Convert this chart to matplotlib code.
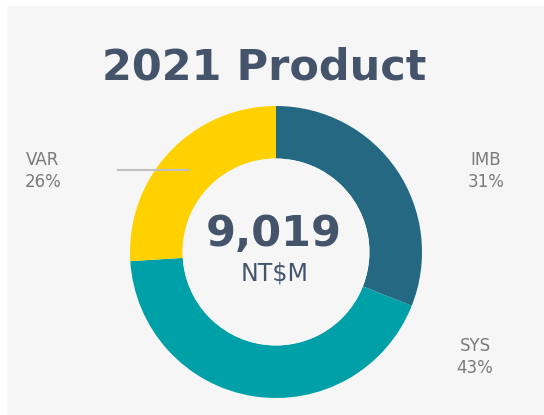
import matplotlib.pyplot as plt
from matplotlib.patches import Rectangle, Circle

# data
products = ['IMB', 'SYS', 'VAR']
shares = [31, 43, 26]
colors = ['#246882', '#00a0a8', '#ffd100']
total = '9,019'
unit = 'NT$M'

W, H = 544, 415
panel_col = '#f6f6f6'
fig = plt.figure(figsize=(W / 100, H / 100), dpi=100)
fig.patch.set_facecolor('white')

# light grey panel
fig.patches.append(Rectangle((7 / W, 0), 1, (H - 6) / H, transform=fig.transFigure,
                             facecolor=panel_col, edgecolor='none', zorder=-5))

def fx(x):
    return x / W

def fy(y):
    return 1 - y / H

# donut: center (276, 252), outer radius 146 px
ax = fig.add_axes([fx(130), fy(398), 292 / W, 292 / H])
ax.set_zorder(2)
ax.patch.set_visible(False)
ax.pie(shares, colors=colors, startangle=90, counterclock=False,
       radius=1, wedgeprops=dict(width=0.36, edgecolor='none'))
ax.add_patch(Circle((0, 0), 0.64, facecolor=panel_col, edgecolor='none'))
ax.set_xlim(-1, 1)
ax.set_ylim(-1, 1)
ax.set_aspect('equal')
ax.axis('off')

title_col = '#44546a'
label_col = '#7a7a7a'

fig.text(fx(264), fy(67), '2021 Product', ha='center', va='center',
         fontsize=31, fontweight='bold', color=title_col)
fig.text(fx(274), fy(234), total, ha='center', va='center',
         fontsize=31, fontweight='bold', color=title_col, zorder=5)
fig.text(fx(275), fy(274), unit, ha='center', va='center',
         fontsize=17, color=title_col, zorder=5)

# labels
label_pos = {'IMB': (486, 171), 'SYS': (475, 357), 'VAR': (43, 171)}
for name, pct in zip(products, shares):
    x, y = label_pos[name]
    fig.text(fx(x), fy(y), f'{name}\n{pct}%', ha='center', va='center',
             fontsize=12, color=label_col, linespacing=1.3)

# leader line for VAR
fig.add_artist(plt.Line2D([fx(118), fx(188)], [fy(170), fy(170)],
                          color='#bfbfbf', linewidth=1.5, zorder=6))

fig.savefig('out.png', dpi=100)
